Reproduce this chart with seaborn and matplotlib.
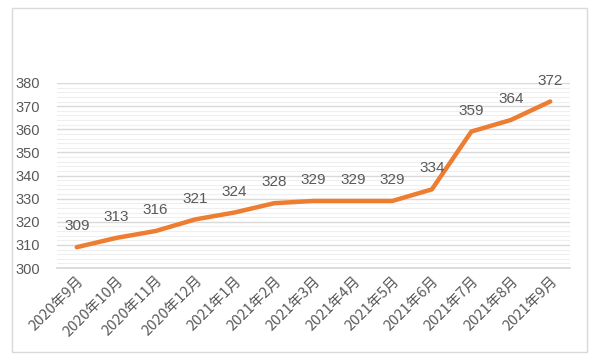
import matplotlib
matplotlib.use("Agg")
import matplotlib.pyplot as plt
import seaborn as sns
import pandas as pd
from matplotlib.patches import Rectangle
from matplotlib.ticker import MultipleLocator

months = ["2020年9月", "2020年10月", "2020年11月", "2020年12月", "2021年1月", "2021年2月",
          "2021年3月", "2021年4月", "2021年5月", "2021年6月", "2021年7月", "2021年8月", "2021年9月"]
values = [309, 313, 316, 321, 324, 328, 329, 329, 329, 334, 359, 364, 372]
yticks = [300, 310, 320, 330, 340, 350, 360, 370, 380]

sns.set_theme(style="white")
plt.rcParams['font.family'] = ['Noto Sans CJK SC', 'DejaVu Sans']

df = pd.DataFrame({"x": range(len(months)), "v": values})

fig = plt.figure(figsize=(6.0, 3.57), dpi=100)
fig.patch.set_facecolor("white")
fig.patches.append(Rectangle((12/600, 1-352/357), 575/600, 344/357, transform=fig.transFigure,
                             fill=False, edgecolor="#d9d9d9", linewidth=1.0))
ax = fig.add_axes([57/600, 1-268/357, 513/600, 185/357])

sns.lineplot(data=df, x="x", y="v", ax=ax, color="#ED7D31", linewidth=3.2, zorder=3)

for i, v in enumerate(values):
    ax.annotate(str(v), (i, v), xytext=(0, 10), textcoords="offset points",
                ha="center", va="bottom", fontsize=11, color="#595959",
                family=['Liberation Sans', 'DejaVu Sans'])

ax.set_xlim(-0.5, len(months) - 0.5)
ax.set_ylim(300, 380)
ax.set_yticks(yticks)
ax.set_yticklabels([str(t) for t in yticks], fontsize=10.5, color="#595959",
                   family=['Liberation Sans', 'DejaVu Sans'])
ax.yaxis.set_minor_locator(MultipleLocator(2))
ax.set_xticks(range(len(months)))
ax.set_xticklabels(months, rotation=45, ha="right", rotation_mode="anchor",
                   fontsize=10.5, color="#595959")
ax.grid(axis="y", which="major", color="#d9d9d9", linewidth=1.0, zorder=0)
ax.grid(axis="y", which="minor", color="#efefef", linewidth=0.8, zorder=0)
ax.set_axisbelow(True)
for s in ["top", "right", "left"]:
    ax.spines[s].set_visible(False)
ax.spines["bottom"].set_color("#d9d9d9")
ax.tick_params(axis="both", which="both", length=0, pad=4)
ax.tick_params(axis="y", pad=12)
ax.set_xlabel("")
ax.set_ylabel("")

fig.savefig("out.png", dpi=100, facecolor="white")
